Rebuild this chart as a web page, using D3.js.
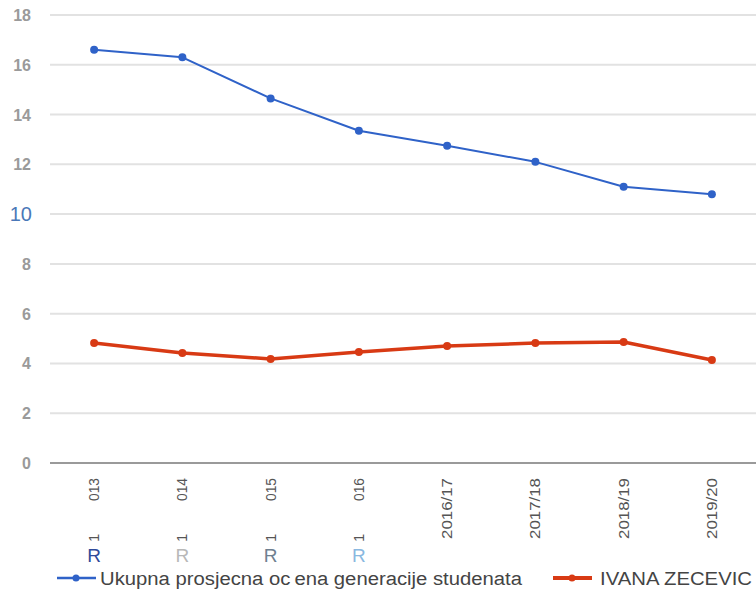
<!DOCTYPE html>
<html><head><meta charset="utf-8">
<script src="https://cdn.jsdelivr.net/npm/d3@7"></script>
<style>body{margin:0;background:#fff}svg{display:block}text{font-family:"Liberation Sans",Arial,sans-serif}</style>
</head><body><svg id="c" width="756" height="594"></svg>
<script>
const categories = ["1 013","1 014","1 015","1 016","2016/17","2017/18","2018/19","2019/20"];
const labelHead = ["013","014","015","016"];
const labelTail = ["1","1","1","1"];
const labelR = ["R","R","R","R"];
const labelRColors = ["#2f4a9a","#b8b8b8","#6f7f90","#8ab8e0"];
const ukupna = [16.6, 16.3, 14.65, 13.35, 12.75, 12.1, 11.1, 10.8];
const ivana = [4.82, 4.42, 4.18, 4.46, 4.7, 4.82, 4.86, 4.14];
const yTicks = [0,2,4,6,8,10,12,14,16,18];
const seriesNames = ["Ukupna prosjecna oc\u2009ena generacije studenata","IVANA ZECEVIC"];
const colors = ["#2f62c8","#d83a14"];

const svg = d3.select("#c");
const x = d3.scalePoint().domain(categories).range([50,756]).padding(0.5);
const y = d3.scaleLinear().domain([0,18]).range([463,15]);

// gridlines
svg.append("g").selectAll("line").data(yTicks.filter(d=>d>0)).join("line")
  .attr("x1",50).attr("x2",756).attr("y1",d=>y(d)).attr("y2",d=>y(d))
  .attr("stroke","#e2e2e2").attr("stroke-width",2);
svg.append("line").attr("x1",50).attr("x2",756).attr("y1",y(0)).attr("y2",y(0))
  .attr("stroke","#9a9a9a").attr("stroke-width",2);

// y labels
svg.append("g").selectAll("text").data(yTicks).join("text")
  .attr("x",d=>d===10?32:31).attr("y",d=>y(d)+(d===10?7:6))
  .attr("text-anchor","end")
  .attr("font-size",d=>d===10?20:16)
  .attr("font-weight",d=>d===10?"normal":"bold")
  .attr("fill",d=>d===10?"#4a78b8":"#9a9a9a")
  .text(d=>d);

// x labels
const xl = svg.append("g");
categories.forEach((c,i)=>{
  const cx = x(c);
  if(i<4){
    xl.append("text").attr("transform",`translate(${cx+5},478) rotate(-90)`)
      .attr("text-anchor","end").attr("font-size",15).attr("fill","#555")
      .attr("textLength",23).attr("lengthAdjust","spacingAndGlyphs").text(labelHead[i]);
    xl.append("text").attr("transform",`translate(${cx+5},542) rotate(-90)`)
      .attr("text-anchor","start").attr("font-size",15).attr("fill","#555").text(labelTail[i]);
    xl.append("text").attr("x",cx).attr("y",562).attr("text-anchor","middle")
      .attr("font-size",19).attr("fill",labelRColors[i]).text(labelR[i]);
  } else {
    xl.append("text").attr("transform",`translate(${cx+5},478) rotate(-90)`)
      .attr("text-anchor","end").attr("font-size",15).attr("fill","#555")
      .attr("textLength",61).attr("lengthAdjust","spacingAndGlyphs").text(c);
  }
});

// lines
const line = d3.line().x((d,i)=>x(categories[i])).y(d=>y(d));
[[ukupna,2],[ivana,3.5]].forEach(([data,w],k)=>{
  svg.append("path").datum(data).attr("d",line).attr("fill","none")
    .attr("stroke",colors[k]).attr("stroke-width",w).attr("stroke-linejoin","round");
  svg.append("g").selectAll("circle").data(data).join("circle")
    .attr("cx",(d,i)=>x(categories[i])).attr("cy",d=>y(d)).attr("r",4).attr("fill",colors[k]);
});

// legend
const leg = [{x:57,tx:100,w:422},{x:553,tx:600,w:152}];
leg.forEach((l,k)=>{
  svg.append("line").attr("x1",l.x).attr("x2",l.x+39).attr("y1",578).attr("y2",578)
    .attr("stroke",colors[k]).attr("stroke-width",k?4:2.5);
  svg.append("circle").attr("cx",l.x+19).attr("cy",578).attr("r",3.5).attr("fill",colors[k]);
  svg.append("text").attr("x",l.tx).attr("y",585).attr("font-size",18).attr("fill","#444")
    .attr("textLength",l.w).attr("lengthAdjust","spacingAndGlyphs").text(seriesNames[k]);
});
</script></body></html>
